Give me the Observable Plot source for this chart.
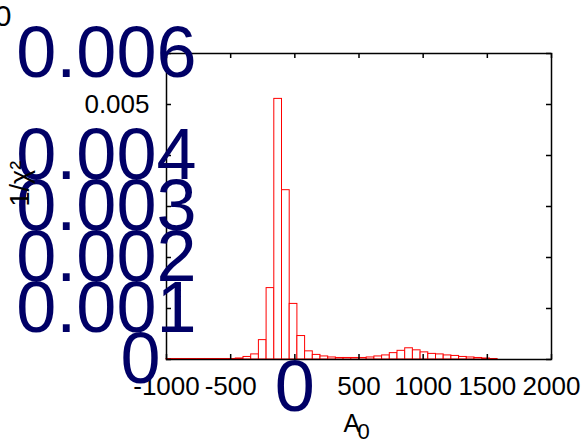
<!DOCTYPE html>
<html>
<head>
<meta charset="utf-8">
<script src="https://cdn.jsdelivr.net/npm/d3@7"></script>
<script src="https://cdn.jsdelivr.net/npm/@observablehq/plot@0.6"></script>
<style>
  html, body { margin: 0; padding: 0; background: white; }
  svg { display: block; }
</style>
</head>
<body>
<div id="chart"></div>
<script>
// Histogram bins (lower edges), bin width and heights
const binLower = [-1000, -940, -880, -820, -760, -700, -640, -580, -520, -460,
  -400, -340, -280, -220, -160, -100, -40, 20, 80, 140,
  200, 260, 320, 380, 440, 500, 560, 620, 680, 740,
  800, 860, 920, 980, 1040, 1100, 1160, 1220, 1280, 1340,
  1400, 1460, 1520];
const binWidth = 60;
const binValue = [0.00001, 0.00001, 0.00001, 0.00001, 0.00001, 0.00001, 0.00001, 0.00001, 0.00001, 0.00002,
  0.00005, 0.0001, 0.00038, 0.0014, 0.00511, 0.00332, 0.00109, 0.00046, 0.00016, 0.00009,
  0.00006, 0.00004, 0.00003, 0.00003, 0.00003, 0.00003, 0.00004, 0.00006, 0.00008, 0.000125,
  0.00017, 0.00022, 0.00018, 0.00014, 0.00011, 0.0001, 0.00008, 0.00007, 0.00005, 0.00004,
  0.00003, 0.00002, 0.00001];

const xTicks = [-1000, -500, 0, 500, 1000, 1500, 2000];
const xSmallLabels = ["-1000", "-500", "500", "1000", "1500", "2000"];
const xBigLabels = ["0"];
const yTicks = [0, 0.001, 0.002, 0.003, 0.004, 0.005, 0.006];
const ySmallLabels = ["0.005"];
const yBigLabels = ["0.006", "0.004", "0.003", "0.002", "0.001"];
const yBigZero = ["0"];

const bins = binLower.map((lo, i) => ({x1: lo, x2: lo + binWidth, v: binValue[i]}));

const W = 584, H = 443;
const mL = 166, mR = 33, mT = 53, mB = 84;
const fw = W - mL - mR, fh = H - mT - mB;
const tickLen = 5;
const navy = "#000066";

const chart = Plot.plot({
  width: W, height: H,
  marginLeft: mL, marginRight: mR, marginTop: mT, marginBottom: mB,
  x: {domain: [-1000, 2000], axis: null},
  y: {domain: [0, 0.006], axis: null},
  style: {fontFamily: "'Liberation Sans', Arial, sans-serif", background: "white", color: "black"},
  marks: [
    Plot.rect(bins, {x1: "x1", x2: "x2", y1: 0, y2: "v", fill: "white", stroke: "red", strokeWidth: 1}),
    // inward mirror ticks
    Plot.tickX(xTicks, {x: d => d, insetTop: fh - tickLen, stroke: "black", strokeWidth: 1.5}),
    Plot.tickX(xTicks, {x: d => d, insetBottom: fh - tickLen, stroke: "black", strokeWidth: 1.5}),
    Plot.tickY(yTicks, {y: d => d, insetRight: fw - tickLen, stroke: "black", strokeWidth: 1.5}),
    Plot.tickY(yTicks, {y: d => d, insetLeft: fw - tickLen, stroke: "black", strokeWidth: 1.5}),
    Plot.frame({stroke: "black", strokeWidth: 1.5}),
    // x tick labels
    Plot.text(xSmallLabels, {x: d => +d, text: d => d, frameAnchor: "bottom", dy: 27, lineAnchor: "middle", fontSize: 26, fill: "black"}),
    Plot.text(xBigLabels, {x: d => +d, text: d => d, frameAnchor: "bottom", dy: 28, lineAnchor: "middle", fontSize: 72, fill: navy}),
    // y tick labels
    Plot.text(ySmallLabels, {y: d => +d, text: d => d, frameAnchor: "left", dx: -17, textAnchor: "end", lineAnchor: "middle", fontSize: 26, fill: "black"}),
    Plot.text(yBigLabels, {y: d => +d, text: d => d, frameAnchor: "left", dx: 30, textAnchor: "end", lineAnchor: "middle", fontSize: 72, fill: navy}),
    Plot.text(yBigZero, {y: d => +d, text: d => d, frameAnchor: "left", dx: -6, textAnchor: "end", lineAnchor: "middle", fontSize: 72, fill: navy}),
    // axis titles
    Plot.text(["1/χ²"], {text: d => d, frameAnchor: "left", dx: -146, rotate: -90, lineAnchor: "middle", fontSize: 27, fill: "black"}),
    Plot.text(["A"], {text: d => d, frameAnchor: "bottom-left", dx: 177, dy: 64, textAnchor: "start", lineAnchor: "middle", fontSize: 25, fill: "black"}),
    Plot.text(["0"], {text: d => d, frameAnchor: "bottom-left", dx: 191, dy: 72, textAnchor: "start", lineAnchor: "middle", fontSize: 22, fill: "black"}),
    // stray label at top-left corner
    Plot.text(["0"], {text: d => d, frameAnchor: "top-left", dx: -155, dy: -37, textAnchor: "end", lineAnchor: "middle", fontSize: 30, fill: "black"})
  ]
});
document.getElementById("chart").appendChild(chart);
</script>
</body>
</html>
